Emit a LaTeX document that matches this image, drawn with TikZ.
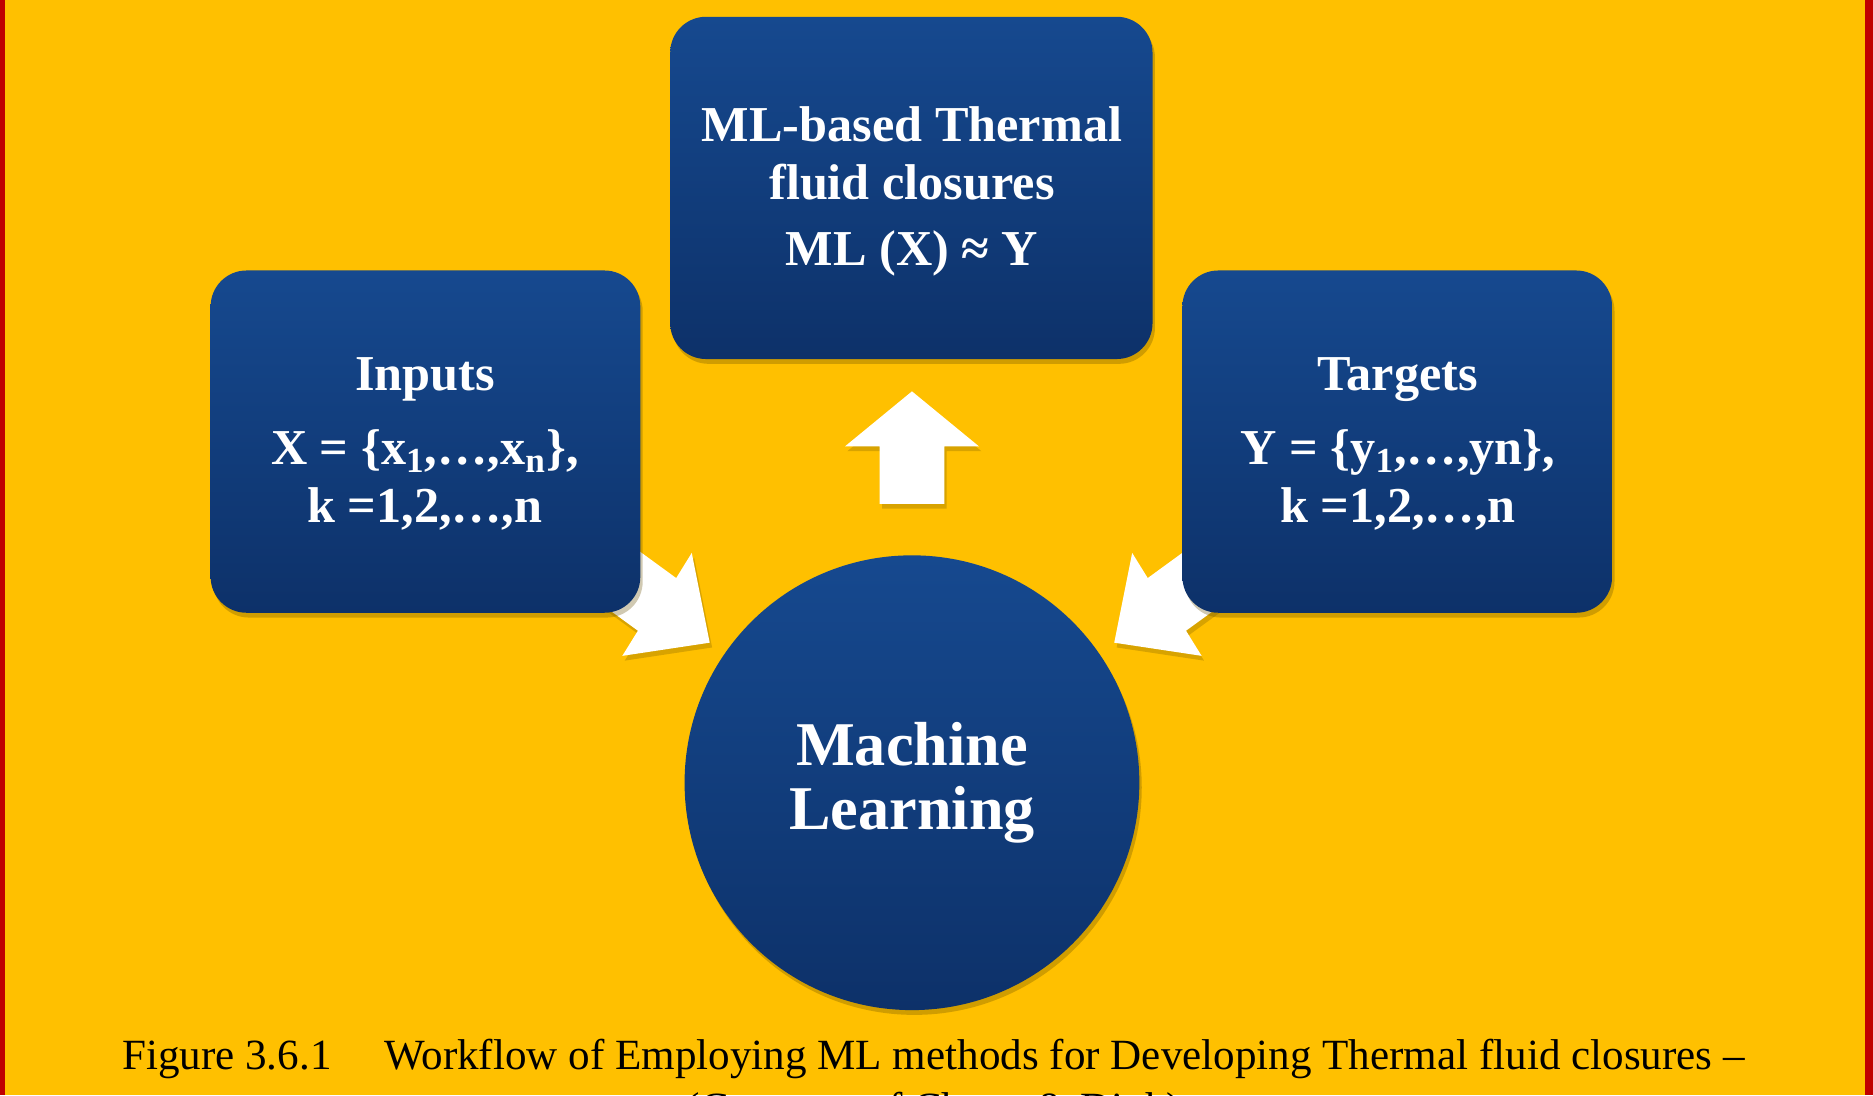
\documentclass[tikz,border=0pt]{standalone}
\usepackage{fontspec}
\setmainfont{Liberation Serif}
\usetikzlibrary{shadows}
\definecolor{bg}{HTML}{FFC000}
\definecolor{btop}{HTML}{16498F}
\definecolor{bbot}{HTML}{0D3169}
\definecolor{frame}{HTML}{C00000}
\begin{document}
\begin{tikzpicture}[x=0.5pt,y=-0.5pt,
  box/.style={rounded corners=15pt,top color=btop,bottom color=bbot,draw=none,
    drop shadow={shadow xshift=1pt,shadow yshift=-2pt,opacity=0.3,fill=black!60!bg}},
  wtext/.style={text=white,font=\bfseries\fontsize{21}{24}\selectfont,align=center},
  warrow/.style={fill=white,draw=none,
    drop shadow={shadow xshift=1pt,shadow yshift=-2pt,opacity=0.25,fill=black!60!bg}}]
\fill[bg] (0,0) rectangle (1565,915);
\useasboundingbox (0,0) rectangle (1565,915);
\fill[frame] (0,0) rectangle (4,915);
\fill[frame] (1558,0) rectangle (1565,915);
% arrows
\filldraw[warrow] (452,468) -- (533,527) -- (520,548) -- (593,537) -- (578,462) -- (565,483) -- (484,424) -- cycle;
\filldraw[warrow] (1072,468) -- (991,527) -- (1004,548) -- (931,537) -- (946,462) -- (959,483) -- (1040,424) -- cycle;
\filldraw[warrow] (735,421) -- (735,373) -- (706,373) -- (762,327) -- (818,373) -- (789,373) -- (789,421) -- cycle;
% boxes
\path[box] (560,14) rectangle (963,300);
\path[box] (176,226) rectangle (535,512);
\path[box] (988,226) rectangle (1347,512);
\node[circle,minimum size=190pt,inner sep=0pt,top color=btop,bottom color=bbot,
  drop shadow={shadow xshift=1pt,shadow yshift=-2pt,opacity=0.3,fill=black!60!bg}] (ml) at (762,654) {};
\node[wtext] (mlt) at (762,128) {ML-based Thermal\\fluid closures};
\node[wtext] (mle) at (762,212) {ML (X) ≈ Y};
\node[wtext] (inp) at (355,317) {Inputs};
\node[wtext] (inx) at (355,401) {X = \{x\textsubscript{1},…,x\textsubscript{n}\},\\k =1,2,…,n};
\node[wtext] (tg) at (1168,317) {Targets};
\node[wtext] (tgy) at (1168,401) {Y = \{y\textsubscript{1},…,yn\},\\k =1,2,…,n};
\node[wtext,font=\bfseries\fontsize{26}{27}\selectfont] (mlc) at (762,654) {Machine\\Learning};
\node[font=\fontsize{18}{20}\selectfont,anchor=base] (cap) at (780,894) {Figure 3.6.1\hspace{22pt}Workflow of Employing ML methods for Developing Thermal fluid closures –};
\node[font=\fontsize{18}{20}\selectfont,anchor=base] (cap2) at (780,938) {(Courtesy of Chang \& Dinh)};
\end{tikzpicture}
\end{document}
